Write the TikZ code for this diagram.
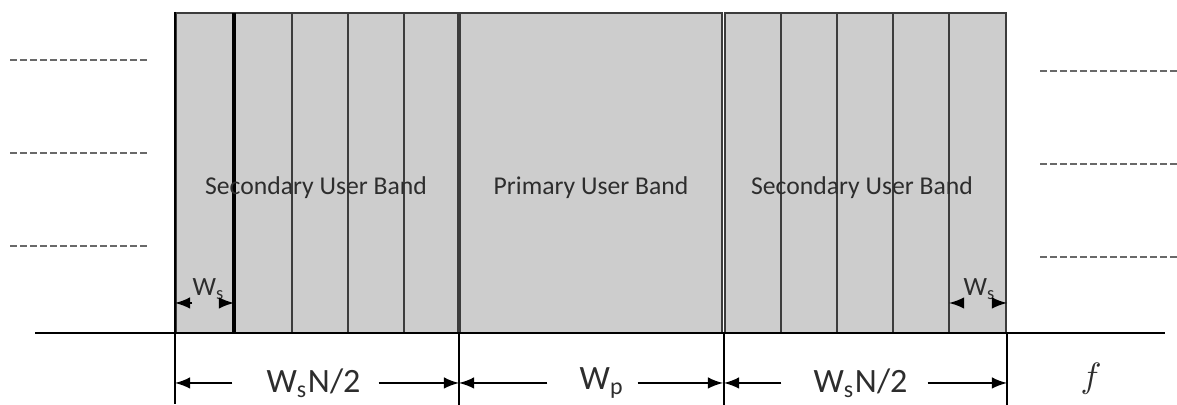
\documentclass[tikz,border=0pt]{standalone}
\usepackage{fontspec}
\setmainfont{Carlito}
\usepackage{tikz}
\usetikzlibrary{arrows}

\definecolor{bandgray}{RGB}{205,205,205}
\definecolor{edgegray}{RGB}{60,60,60}
\definecolor{textgray}{RGB}{45,45,45}
\definecolor{dashgray}{RGB}{105,105,105}

\begin{document}
\begin{tikzpicture}[
  band/.style={draw=edgegray, fill=bandgray, line width=0.6pt, inner sep=0pt,
    minimum height=3.2cm},
  divider/.style={draw=edgegray, line width=0.6pt},
  bandtext/.style={text=textgray, font=\fontsize{7.3}{9}\selectfont},
  dimtext/.style={text=textgray, inner sep=0pt, font=\fontsize{9.7}{11}\selectfont},
  wstext/.style={text=textgray, inner sep=0pt, font=\fontsize{7.5}{9}\selectfont},
  dimline/.style={-latex, line width=0.5pt, draw=black},
  farband/.style={draw=dashgray, line width=0.8pt, dash pattern=on 0.07cm off 0.03cm}
]
  \useasboundingbox (0,0) rectangle (11.77,4.05);

  % bands beyond the picture
  \foreach \y in {3.45,2.52,1.59} {%
    \draw[farband] (0.1,\y) -- (1.5,\y);
  }
  \foreach \y in {3.34,2.41,1.48} {%
    \draw[farband] (10.4,\y) -- (11.77,\y);
  }

  % the three bands
  \node[band, minimum width=2.82cm] (sl) at (3.17,2.32) {};
  \node[band, minimum width=2.62cm] (pu) at (5.91,2.32) {};
  \node[band, minimum width=2.81cm] (sr) at (8.655,2.32) {};

  % sub-bands
  \draw[divider, line width=1pt, draw=black] (2.34,0.72) coordinate (cl) -- (2.34,3.92);
  \foreach \x in {2.92,3.48,4.04} {%
    \draw[divider] (\x,0.72) -- (\x,3.92);
  }
  \foreach \x in {7.81,8.37,8.93,9.49} {%
    \draw[divider] (\x,0.72) -- (\x,3.92);
  }
  \coordinate (cr) at (9.49,0.72);

  \node[bandtext] (tl) at (3.16,2.17) {Secondary User Band};
  \node[bandtext] (tp) at (5.91,2.17) {Primary User Band};
  \node[bandtext] (tr) at (8.62,2.17) {Secondary User Band};

  % frequency axis
  \draw[line width=0.6pt] (0.35,0.72) -- (11.65,0.72);
  \draw[line width=0.5pt] (sl.north west) -- ++(0,-3.92);
  \draw[line width=0.5pt] (sl.south east) -- ++(0,-0.72);
  \draw[line width=0.5pt] (sr.south west) -- ++(0,-0.72);
  \draw[line width=0.5pt] (sr.south east) -- ++(0,-0.72);

  % widths
  \node[dimtext, minimum width=1.45cm] (dl) at (3.055,0.22) {\hspace{0.16cm}W\textsubscript{s}N/2};
  \draw[dimline] (dl.west) -- (dl.west -| sl.west);
  \draw[dimline] (dl.east) -- (dl.east -| sl.east);

  \node[dimtext, minimum width=0.89cm] (dp) at (5.925,0.22) {\hspace{0.19cm}W\textsubscript{p}};
  \draw[dimline] (dp.west) -- (dp.west -| pu.west);
  \draw[dimline] (dp.east) -- (dp.east -| pu.east);

  \node[dimtext, minimum width=1.45cm] (dr) at (8.545,0.22) {\hspace{0.12cm}W\textsubscript{s}N/2};
  \draw[dimline] (dr.west) -- (dr.west -| sr.west);
  \draw[dimline] (dr.east) -- (dr.east -| sr.east);

  \node[dimtext, font=\fontsize{10.2}{12}\selectfont] (fl) at (10.91,0.26) {$f$};

  \node[wstext, anchor=base west] (wsl) at (1.92,1.09) {W\textsubscript{s}};
  \draw[dimline] ([yshift=-0.07cm]wsl.base west) -- ([yshift=-0.07cm]wsl.base west -| sl.west);
  \draw[dimline] ([yshift=-0.07cm]wsl.base east) -- ([yshift=-0.07cm]wsl.base east -| cl);

  \node[wstext, anchor=base west] (wsr) at (9.63,1.09) {W\textsubscript{s}};
  \draw[dimline] ([yshift=-0.07cm]wsr.base west) -- ([yshift=-0.07cm]wsr.base west -| cr);
  \draw[dimline] ([yshift=-0.07cm]wsr.base east) -- ([yshift=-0.07cm]wsr.base east -| sr.east);
\end{tikzpicture}
\end{document}
